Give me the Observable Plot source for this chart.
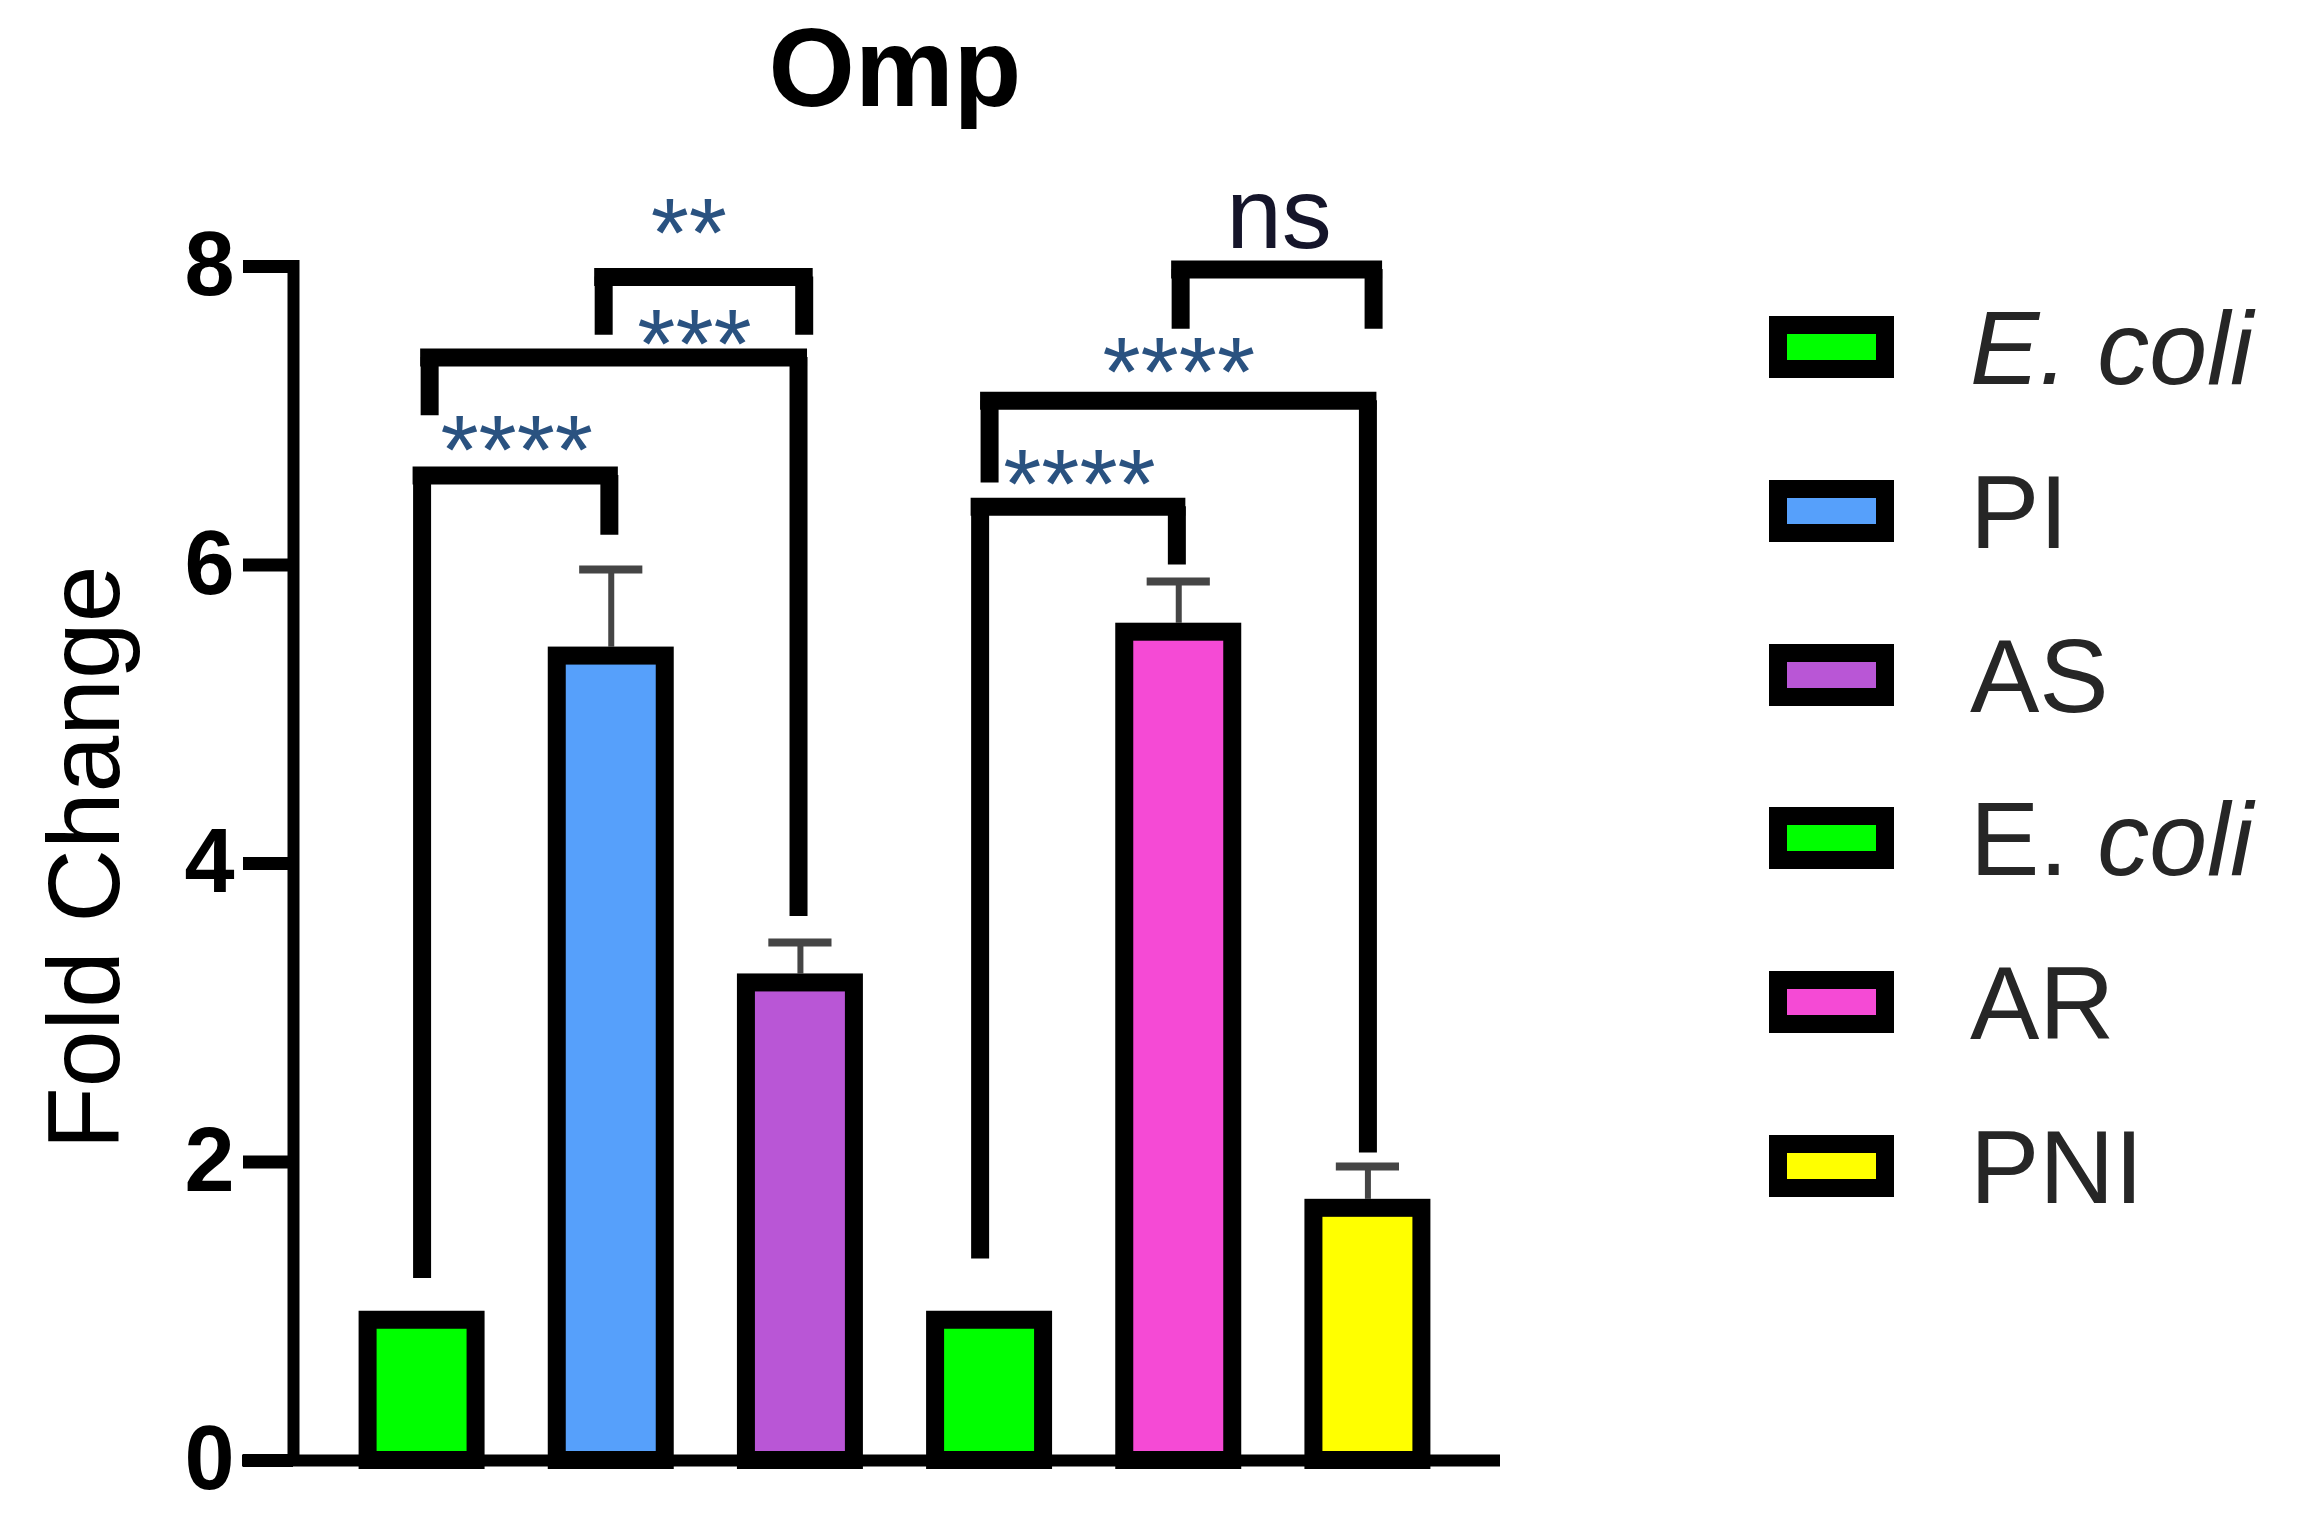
<!DOCTYPE html>
<html>
<head>
<meta charset="utf-8">
<script src="https://cdn.jsdelivr.net/npm/d3@7"></script>
<script src="https://cdn.jsdelivr.net/npm/@observablehq/plot@0.6"></script>
<style>
  html, body { margin: 0; padding: 0; background: #fff; }
  #wrap { position: relative; width: 2301px; height: 1536px; font-family: "Liberation Sans", Arial, sans-serif; }
  #title { position: absolute; left: 0; top: 0; width: 1790px; height: 160px; line-height: 137px; text-align: center; font-weight: bold; font-size: 111px; color: #000; }
  #chart { position: absolute; left: 0; top: 160px; }
  .sw { position: absolute; left: 1769px; width: 89px; height: 26px; border: 18px solid #000; }
  .lb { position: absolute; left: 1970px; font-size: 104px; line-height: 116px; color: #262626; white-space: pre; }
</style>
</head>
<body>
<div id="wrap">
  <div id="title">Omp</div>
  <div id="chart"></div>
  <div id="legend"></div>
</div>
<script>
// ---- data ----
const groups = ["E. coli", "PI", "AS", "E. coli", "AR", "PNI"];
const foldChange = [1.0, 5.45, 3.26, 1.0, 5.61, 1.75];
const sem = [0, 0.52, 0.21, 0, 0.28, 0.22];
const barColors = ["#00ff00", "#56a0fb", "#b956d6", "#00ff00", "#f54ad5", "#ffff00"];
const yTicks = [0, 2, 4, 6, 8];

// significance comparisons (x in bar index units, y in fold change units)
const cmpLeft = [0, 0.04, 0.96, 2.95, 3.0, 4.01];
const cmpRight = [0.99, 1.99, 2.02, 3.99, 5.0, 5.03];
const cmpTop = [6.60, 7.39, 7.93, 6.39, 7.10, 7.98];
const cmpLeftEnd = [1.22, 7.00, 7.54, 1.35, 6.55, 7.58];
const cmpRightEnd = [6.20, 3.645, 7.54, 6.00, 2.06, 7.58];
const cmpLabel = ["****", "***", "**", "****", "****", "ns"];
const cmpLabelX = [0.50, 1.44, 1.41, 3.475, 4.00, 4.53];
const cmpLabelY = [6.88, 7.59, 8.335, 6.65, 7.40, 8.30];

const legendItalic = ["all", "none", "none", "genus", "none", "none"];

// ---- derived tables ----
const xDomain = [-0.5, groups.length - 0.5];
const barHalf = 0.333, capHalf = 0.167;
const bars = groups.map((g, i) => ({i, g, v: foldChange[i], e: sem[i], c: barColors[i]}));
const errs = bars.filter(d => d.e > 0);
const cmps = cmpLabel.map((l, k) => ({
  l, a: cmpLeft[k], b: cmpRight[k], top: cmpTop[k],
  ea: cmpLeftEnd[k], eb: cmpRightEnd[k], lx: cmpLabelX[k], ly: cmpLabelY[k]
}));

const font = "Liberation Sans, Arial, sans-serif";

const chart = Plot.plot({
  width: 2301,
  height: 1376,
  marginTop: 106,
  marginBottom: 76,
  marginLeft: 327,
  marginRight: 839,
  style: {fontFamily: font, background: "#fff", color: "#000", overflow: "visible"},
  x: {type: "linear", domain: xDomain, axis: null},
  y: {domain: [0, 8], axis: null},
  marks: [
    // error bars (upper only)
    Plot.ruleX(errs, {x: "i", y1: "v", y2: d => d.v + d.e, stroke: "#454545", strokeWidth: 6}),
    Plot.ruleY(errs, {x1: d => d.i - capHalf, x2: d => d.i + capHalf, y: d => d.v + d.e, stroke: "#454545", strokeWidth: 8}),
    // bars
    Plot.rectY(bars, {x1: d => d.i - barHalf, x2: d => d.i + barHalf, y1: 0, y2: "v", fill: "c", stroke: "#000", strokeWidth: 18, insetTop: 9, insetLeft: 9, insetRight: 9}),
    // significance brackets
    Plot.ruleX(cmps, {x: "a", y1: "ea", y2: "top", stroke: "#000", strokeWidth: 18}),
    Plot.ruleX(cmps, {x: "b", y1: "eb", y2: "top", stroke: "#000", strokeWidth: 18}),
    Plot.ruleY(cmps, {x1: "a", x2: "b", y: "top", stroke: "#000", strokeWidth: 18, strokeLinecap: "square"}),
    Plot.text(cmps.filter(d => d.l !== "ns"), {x: "lx", y: "ly", text: "l", fontSize: 98, fill: "#2a5280", dy: 19, textAnchor: "middle"}),
    Plot.text(cmps.filter(d => d.l === "ns"), {x: "lx", y: "ly", text: "l", fontSize: 100, fill: "#15152a", dy: -6, textAnchor: "middle"}),
    // axes
    Plot.ruleY([0], {stroke: "#000", strokeWidth: 12, insetLeft: -85, insetRight: -38}),
    Plot.ruleX([xDomain[0]], {y1: 0, y2: 8, dx: -34, stroke: "#000", strokeWidth: 12, strokeLinecap: "square"}),
    Plot.axisY({ticks: yTicks, tickSize: 50, tickPadding: 9, dx: -34, strokeWidth: 13, fontSize: 90, fontWeight: "bold", label: null, tickFormat: d => String(d)}),
    Plot.text(["Fold Change"], {frameAnchor: "left", text: d => d, rotate: -90, textAnchor: "middle", lineAnchor: "middle", dx: -241, dy: -6, fontSize: 102, fill: "#000"})
  ]
});
document.getElementById("chart").appendChild(chart);

// ---- legend ----
const legend = document.getElementById("legend");
groups.forEach((g, i) => {
  const cy = 347 + i * 163.8;
  const sw = document.createElement("div");
  sw.className = "sw";
  sw.style.top = (cy - 31) + "px";
  sw.style.background = barColors[i];
  legend.appendChild(sw);
  const lb = document.createElement("div");
  lb.className = "lb";
  lb.style.top = (cy - 57) + "px";
  if (legendItalic[i] === "all") {
    const it = document.createElement("i"); it.textContent = g; lb.appendChild(it);
  } else if (legendItalic[i] === "genus") {
    const parts = g.split(" ");
    lb.appendChild(document.createTextNode(parts[0] + " "));
    const it = document.createElement("i"); it.textContent = parts.slice(1).join(" "); lb.appendChild(it);
  } else {
    lb.textContent = g;
  }
  legend.appendChild(lb);
});
</script>
</body>
</html>
